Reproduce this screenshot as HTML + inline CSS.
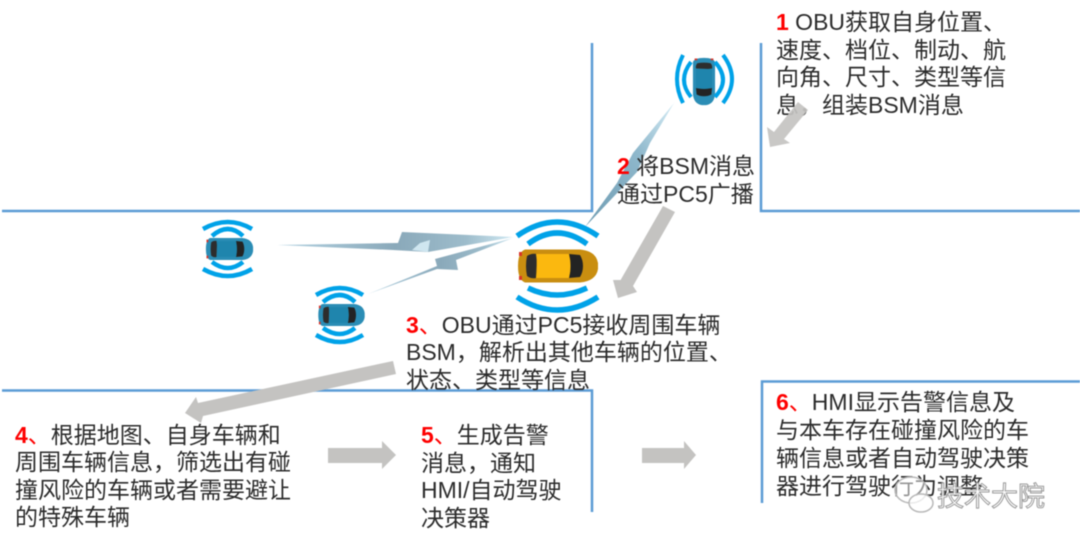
<!DOCTYPE html>
<html>
<head>
<meta charset="utf-8">
<style>
html,body{margin:0;padding:0;background:#fff}
svg{display:block;filter:blur(.4px)}
text{font-family:"Liberation Sans","Noto Sans CJK SC",sans-serif;font-size:23px;fill:#2b2b2b}
.n{fill:#fe0000;font-weight:bold}
.rd{fill:#fe0000}
.a{fill:none;stroke:#00a2e8;stroke-width:5.5;stroke-linecap:butt}
.s{fill:none;stroke:#00a2e8;stroke-width:4.5}
.t{fill:none;stroke:#00a2e8;stroke-width:4}
.r{stroke:#5b9bd5;stroke-width:2.5;fill:none}
.g{fill:#c4c3c1}
</style>
</head>
<body>
<svg width="1080" height="544" viewBox="0 0 1080 544" xmlns="http://www.w3.org/2000/svg">
<defs>
<linearGradient id="b1" x1="0" y1="0" x2="1" y2="0">
<stop offset="0" stop-color="#b4d3e2"/><stop offset=".5" stop-color="#8aa9ba"/><stop offset=".8" stop-color="#9dbccb"/><stop offset="1" stop-color="#d0e9f3"/>
</linearGradient>
<linearGradient id="b3" x1="0" y1="1" x2="1" y2="0">
<stop offset="0" stop-color="#6f9cb2"/><stop offset=".6" stop-color="#8fb8cc"/><stop offset="1" stop-color="#d5ecf5"/>
</linearGradient>
<g id="car">
<!-- car facing right, centered, 80 x 33 -->
<path d="M-33 -16.500H22Q38 -15 40 -3V3Q38 15 22 16.500H-33Q-40 14 -40 0Q-40 -14 -33 -16.500Z" fill="var(--b)"/>
<path d="M-31 -10Q-33 0 -31 10Q-27 13 -22 12L-21 -12Q-27 -13 -31 -10Z" fill="#2d2d2d"/>
<path d="M11 -12L22 -11Q25 -6 25 0Q25 6 22 11L11 12Q14 0 11 -12Z" fill="#232323"/>
<path d="M-22 -12H11Q14 0 11 12H-22Q-20 0 -22 -12Z" fill="var(--c)"/>
<rect x="-39" y="-14" width="3" height="4" fill="#d8362a"/>
<rect x="-39" y="10" width="3" height="4" fill="#d8362a"/>
</g>
</defs>

<!-- roads -->
<path class="r" d="M592 43V211H2"/>
<path class="r" d="M761 43V211H1080"/>
<path class="r" d="M2 390.500H592V512"/>
<path class="r" d="M762 503V381.500H1080"/>

<!-- lightning bolts -->
<polygon fill="url(#b1)" points="277,245 398,243 402,232 513,237 428,252 393,250"/>
<polygon fill="url(#b1)" points="368,294 437,266 435,259 513,238 456,260 458,270 437,269"/>
<polygon fill="#cfe6f0" points="412,250 428,252 430,240 420,243"/>
<polygon fill="url(#b3)" points="674,103 650,143 637,172 585,227 617,183 633,153"/>

<!-- top car -->
<g style="--b:#2b8db5;--c:#1f85ad" transform="translate(704,81.500) rotate(90) scale(.59,.67)"><use href="#car"/></g>
<path class="t" d="M683 55Q671 79 683 103"/>
<path class="t" d="M691 62Q677 80 691 97"/>
<path class="t" d="M723 55Q741 79 723 103"/>
<path class="t" d="M715 62Q731 80 715 97"/>

<!-- yellow car -->
<g style="--b:#c98e10;--c:#fbb80f" transform="translate(558,266)"><use href="#car"/></g>
<path class="a" d="M517 236Q557 208 598 236"/>
<path class="a" d="M528 244Q557 222 587 244"/>
<path class="a" d="M528 288Q557 302 587 288"/>
<path class="a" d="M517 297Q557 323 598 297"/>

<!-- left car 1 -->
<g style="--b:#2b8db5;--c:#1f85ad" transform="translate(229.500,249) scale(.59,.67)"><use href="#car"/></g>
<path class="s" d="M203 229Q228 215 252 229"/>
<path class="s" d="M212 236Q228 222 243 236"/>
<path class="s" d="M212 262Q228 274 243 262"/>
<path class="s" d="M203 269Q228 283 252 269"/>

<!-- left car 2 -->
<g style="--b:#2b8db5;--c:#1f85ad" transform="translate(341.500,315) scale(.58,.67)"><use href="#car"/></g>
<path class="s" d="M316 295Q340 281 363 295"/>
<path class="s" d="M323 302Q340 288 355 302"/>
<path class="s" d="M323 328Q340 340 355 328"/>
<path class="s" d="M316 335Q340 349 363 335"/>

<!-- text -->
<text x="776" y="30"><tspan class="n">1</tspan> OBU获取自身位置、</text>
<text x="776" y="58">速度、档位、制动、航</text>
<text x="776" y="85">向角、尺寸、类型等信</text>
<text x="776" y="113">息，组装BSM消息</text>

<text x="617" y="174"><tspan class="n">2</tspan> 将BSM消息</text>
<text x="617" y="202">通过PC5广播</text>

<text x="406" y="333"><tspan class="n">3</tspan><tspan class="rd">、</tspan>OBU通过PC5接收周围车辆</text>
<text x="406" y="360">BSM，解析出其他车辆的位置、</text>
<text x="406" y="388">状态、类型等信息</text>

<text x="15" y="443"><tspan class="n">4</tspan><tspan class="rd">、</tspan>根据地图、自身车辆和</text>
<text x="15" y="470">周围车辆信息，筛选出有碰</text>
<text x="15" y="498">撞风险的车辆或者需要避让</text>
<text x="15" y="525">的特殊车辆</text>

<text x="421" y="443"><tspan class="n">5</tspan><tspan class="rd">、</tspan>生成告警</text>
<text x="421" y="471">消息，通知</text>
<text x="421" y="498">HMI/自动驾驶</text>
<text x="421" y="526">决策器</text>

<text x="776" y="410"><tspan class="n">6</tspan><tspan class="rd">、</tspan>HMI显示告警信息及</text>
<text x="776" y="438">与本车存在碰撞风险的车</text>
<text x="776" y="466">辆信息或者自动驾驶决策</text>
<text x="776" y="494">器进行驾驶行为调整</text>

<!-- gray arrows -->
<polygon class="g" opacity=".92" points="798,102 808,110 784,139 790,143 770,147 767,127 774,132"/>
<polygon class="g" points="663,206 675,212 633,286 637,292 618,298 613,280 620.600,280"/>
<polygon class="g" points="393,361 396,374 203,416 201,423 185,413 196,397 198,403"/>
<polygon class="g" points="328,448 382,448 382,441 396,455 382,469 382,463 328,463"/>
<polygon class="g" points="642,448 684,448 684,441 696,455 684,469 684,463 642,463"/>

<!-- watermark -->
<g>
<ellipse cx="911" cy="490" rx="16" ry="13" fill="#fff" fill-opacity=".5" stroke="#b8b8b8" stroke-width="1.500"/>
<ellipse cx="921" cy="503" rx="12" ry="9" fill="#fff" fill-opacity=".7" stroke="#b8b8b8" stroke-width="1.500"/>
<text x="937" y="506" style="fill:#ffffff;stroke:#9a9a9a;stroke-width:1;font-size:27px">技术大院</text>
</g>
</svg>
</body>
</html>
